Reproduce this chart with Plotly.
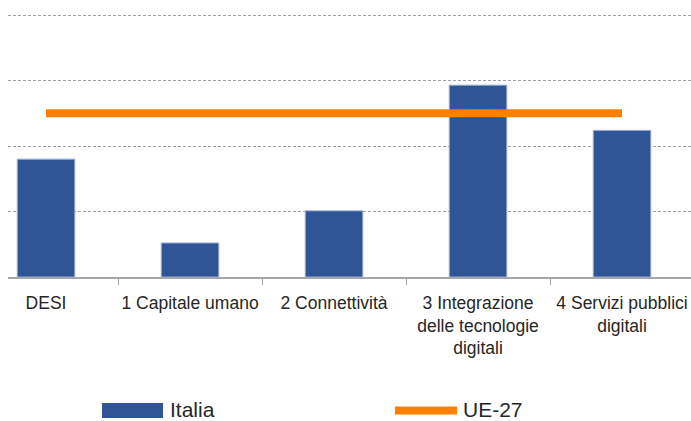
import plotly.graph_objects as go

categories = ["DESI", "1 Capitale umano", "2 Connettività",
              "3 Integrazione<br>delle tecnologie<br>digitali",
              "4 Servizi pubblici<br>digitali"]
italia = [18.0, 5.2, 10.1, 29.3, 22.4]
ue27 = [25.0, 25.0, 25.0, 25.0, 25.0]
legend_names = ["Italia", "UE-27"]

BLUE = "#2F5597"
ORANGE = "#FF8000"
FONT = "Liberation Sans, Arial, sans-serif"

W, H = 691, 421
ML, MR, MT, MB = 8, 0, 2, 144
PW = W - ML - MR
PH = H - MT - MB

def px(x):
    return (x - ML) / PW

def py(y):
    return (H - MB - y) / PH

fig = go.Figure()
fig.add_trace(go.Bar(x=categories, y=italia, name=legend_names[0],
                     width=0.40, marker=dict(color=BLUE, line=dict(color="#9DB0D8", width=1)),
                     showlegend=False))
fig.add_trace(go.Scatter(x=categories, y=ue27, name=legend_names[1], mode="lines",
                         line=dict(color=ORANGE, width=8), showlegend=False))

fig.update_layout(
    width=W, height=H,
    margin=dict(l=ML, r=MR, t=MT, b=MB, autoexpand=False),
    plot_bgcolor="white", paper_bgcolor="white",
    font=dict(family=FONT, size=17.5, color="#404040"),
    xaxis=dict(range=[-0.264, 4.479], showline=True, linecolor="#A6A6A6", linewidth=1.5,
               ticks="outside", tickson="boundaries", ticklen=6, tickcolor="#A6A6A6",
               tickwidth=1, showgrid=False, ticklabelstandoff=9, tickangle=0,
               automargin=False,
               tickfont=dict(family=FONT, size=17.5, color="#262626")),
    yaxis=dict(range=[0, 42], tickvals=[10, 20, 30, 40], showticklabels=False, showgrid=True,
               gridcolor="#A0A0A0", gridwidth=1, griddash="3px,2px", zeroline=False,
               showline=False, automargin=False),
    shapes=[
        dict(type="rect", xref="paper", yref="paper", x0=px(102), x1=px(163),
             y0=py(403), y1=py(418), fillcolor=BLUE, line=dict(width=0)),
        dict(type="line", xref="paper", yref="paper", x0=px(395), x1=px(457),
             y0=py(410.5), y1=py(410.5), line=dict(color=ORANGE, width=8)),
    ],
    annotations=[
        dict(text=legend_names[0], xref="paper", yref="paper", x=px(168), y=py(409),
             xanchor="left", yanchor="middle", showarrow=False,
             font=dict(family=FONT, size=21, color="#262626")),
        dict(text=legend_names[1], xref="paper", yref="paper", x=px(461), y=py(409),
             xanchor="left", yanchor="middle", showarrow=False,
             font=dict(family=FONT, size=21, color="#262626")),
    ],
)

fig.write_html("out.html", config={"displayModeBar": False},
               post_script="document.body.style.margin='0';document.body.style.overflow='hidden';")
